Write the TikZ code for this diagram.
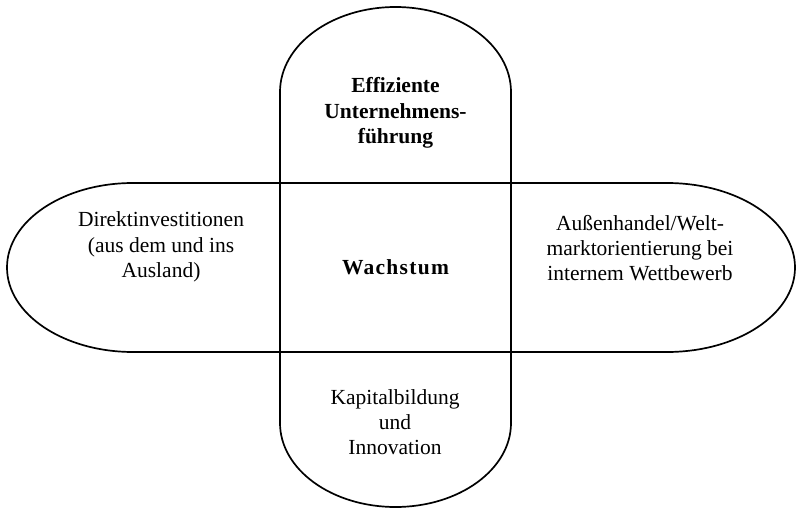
\documentclass[tikz,border=0pt]{standalone}
\usepackage{fontspec}
\setmainfont{Liberation Serif}
\begin{document}
\begin{tikzpicture}[x=1pt,y=1pt,
  outline/.style={draw=black,line width=1.7pt},
  lbl/.style={align=center,font=\fontsize{21.5}{25.3}\selectfont,inner sep=0pt},
  blbl/.style={lbl,font=\fontsize{21.5}{25.3}\selectfont\bfseries}]
\useasboundingbox (0,0) rectangle (797,512);
% vertical stadium
\draw[outline] (280,89) -- (280,420)
  arc[start angle=180,end angle=0,x radius=115.5,y radius=85]
  -- (511,89)
  arc[start angle=0,end angle=-180,x radius=115.5,y radius=84] -- cycle;
% horizontal stadium
\draw[outline] (133,329) -- (667,329)
  arc[start angle=90,end angle=-90,x radius=128,y radius=84.5]
  -- (133,160)
  arc[start angle=270,end angle=90,x radius=126,y radius=84.5] -- cycle;
\node[blbl] (top) at (395.5,399) {Effiziente\\Unternehmens-\\führung};
\node[lbl] (left) at (161,265) {Direktinvestitionen\\(aus dem und ins\\Ausland)};
\node[lbl] (right) at (640,264) {Außenhandel/Welt-\\marktorientierung bei\\internem Wettbewerb};
\node[blbl,font=\fontsize{21.5}{25.3}\selectfont\bfseries\addfontfeatures{LetterSpace=6}] (center) at (395.5,245) {Wachstum};
\node[lbl] (bottom) at (395,90) {Kapitalbildung\\und\\Innovation};
\end{tikzpicture}
\end{document}
